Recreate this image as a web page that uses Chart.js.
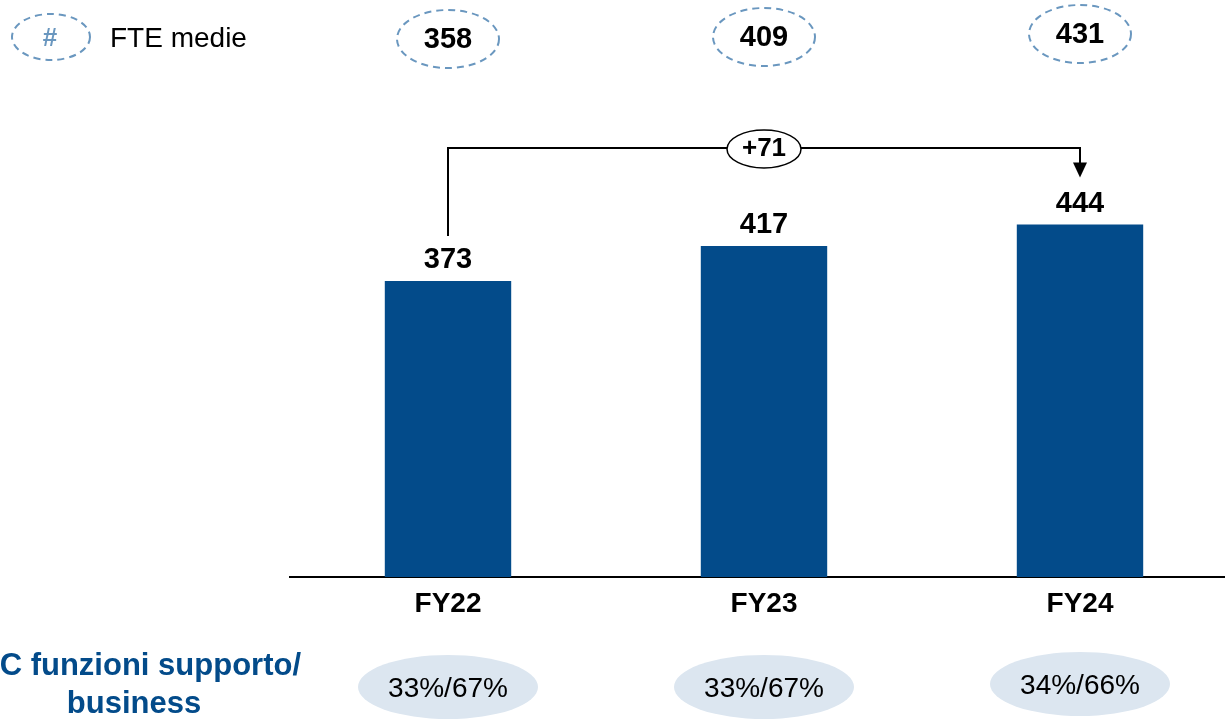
<!DOCTYPE html>
<html>
<head>
<meta charset="utf-8">
<script src="https://cdn.jsdelivr.net/npm/chart.js@4"></script>
<style>
    html, body { margin: 0; padding: 0; background: #fff; overflow: hidden; }
    #wrap { position: absolute; left: 0; top: 0; width: 1240px; height: 719px; }
</style>
</head>
<body>
<div id="wrap"><canvas id="barChart" width="1240" height="719"></canvas></div>
<script>
// chart data
const categories = ['FY22', 'FY23', 'FY24'];
const headcount = [373, 417, 444];
const fteMedie = [358, 409, 431];
const splitLabels = ['33%/67%', '33%/67%', '34%/66%'];
const deltaLabel = '+71';

const barBlue = '#034b8a';
const dashBlue = '#6a97bf';
const FONT = 'Arial, "Liberation Sans", sans-serif';

function ellipse(ctx, x, y, rx, ry) {
    ctx.beginPath();
    ctx.ellipse(x, y, rx, ry, 0, 0, Math.PI * 2);
}

const overlay = {
    id: 'overlay',
    afterDraw(chart) {
        const ctx = chart.ctx;
        const xs = chart.scales.x;
        const ys = chart.scales.y;
        ctx.save();
        ctx.textAlign = 'center';
        ctx.textBaseline = 'middle';

        // legend: dashed ellipse with #
        ctx.setLineDash([7, 5]);
        ctx.lineWidth = 2;
        ctx.strokeStyle = dashBlue;
        ellipse(ctx, 51, 37, 39, 23);
        ctx.stroke();
        ctx.fillStyle = dashBlue;
        ctx.font = 'bold 26px ' + FONT;
        ctx.fillText('#', 50, 39);
        ctx.fillStyle = '#000';
        ctx.font = '28px ' + FONT;
        ctx.textAlign = 'left';
        ctx.fillText('FTE medie', 110, 39);
        ctx.textAlign = 'center';

        // FTE medie bubbles
        const topY = [39, 37, 34];
        fteMedie.forEach((v, i) => {
            const x = xs.getPixelForValue(i);
            ctx.setLineDash([7, 5]);
            ctx.strokeStyle = dashBlue;
            ctx.lineWidth = 2;
            ellipse(ctx, x, topY[i], 51, 29);
            ctx.stroke();
            ctx.setLineDash([]);
            ctx.fillStyle = '#000';
            ctx.font = 'bold 29px ' + FONT;
            ctx.fillText(String(v), x, topY[i] + 1);
        });
        ctx.setLineDash([]);

        // value labels over bars
        headcount.forEach((v, i) => {
            const x = xs.getPixelForValue(i);
            const y = ys.getPixelForValue(v);
            ctx.fillStyle = '#000';
            ctx.font = 'bold 29px ' + FONT;
            ctx.fillText(String(v), x, y - 21);
        });

        // category labels
        categories.forEach((c, i) => {
            ctx.fillStyle = '#000';
            ctx.font = 'bold 28px ' + FONT;
            ctx.fillText(c, xs.getPixelForValue(i), 604);
        });

        // bracket with delta
        const x0 = xs.getPixelForValue(0);
        const x2 = xs.getPixelForValue(2);
        const bracketY = 148;
        const yStart = ys.getPixelForValue(headcount[0]) - 45;
        const yEnd = ys.getPixelForValue(headcount[2]) - 47;
        ctx.strokeStyle = '#000';
        ctx.lineWidth = 2;
        ctx.beginPath();
        ctx.moveTo(x0, yStart);
        ctx.lineTo(x0, bracketY);
        ctx.lineTo(x2, bracketY);
        ctx.lineTo(x2, yEnd - 12);
        ctx.stroke();
        ctx.fillStyle = '#000';
        ctx.beginPath();
        ctx.moveTo(x2 - 7, yEnd - 15);
        ctx.lineTo(x2 + 7, yEnd - 15);
        ctx.lineTo(x2, yEnd);
        ctx.closePath();
        ctx.fill();
        const xm = xs.getPixelForValue(1);
        ellipse(ctx, xm, bracketY + 1, 37, 19);
        ctx.fillStyle = '#fff';
        ctx.fill();
        ctx.lineWidth = 1.5;
        ctx.stroke();
        ctx.fillStyle = '#000';
        ctx.font = 'bold 26px ' + FONT;
        ctx.fillText(deltaLabel, xm, bracketY + 1);

        // split bubbles at the bottom
        const splitY = [687, 687, 684];
        splitLabels.forEach((s, i) => {
            const x = xs.getPixelForValue(i);
            ctx.fillStyle = '#dce6f0';
            ellipse(ctx, x, splitY[i], 90, 32);
            ctx.fill();
            ctx.fillStyle = '#000';
            ctx.font = '28px ' + FONT;
            ctx.fillText(s, x, splitY[i] + 2);
        });

        // left row title
        ctx.fillStyle = barBlue;
        ctx.font = 'bold 31px ' + FONT;
        ctx.textAlign = 'right';
        ctx.fillText('C funzioni supporto/', 301, 666);
        ctx.textAlign = 'center';
        ctx.fillText('business', 134, 704);

        ctx.restore();
    }
};

const ctx = document.getElementById('barChart').getContext('2d');
const barChart = new Chart(ctx, {
    type: 'bar',
    data: {
        labels: categories,
        datasets: [{
            label: 'HC',
            data: headcount,
            backgroundColor: barBlue,
            barPercentage: 0.4,
            categoryPercentage: 1.0
        }]
    },
    options: {
        responsive: false,
        animation: false,
        layout: { padding: { left: 290, right: 2, top: 0, bottom: 142 } },
        plugins: { legend: { display: false }, tooltip: { enabled: false } },
        scales: {
            x: {
                grid: { display: false, drawTicks: false },
                ticks: { display: false },
                border: { display: true, color: '#000', width: 2 }
            },
            y: {
                display: false,
                min: 0,
                max: 727
            }
        }
    },
    plugins: [overlay]
});
</script>
</body>
</html>
